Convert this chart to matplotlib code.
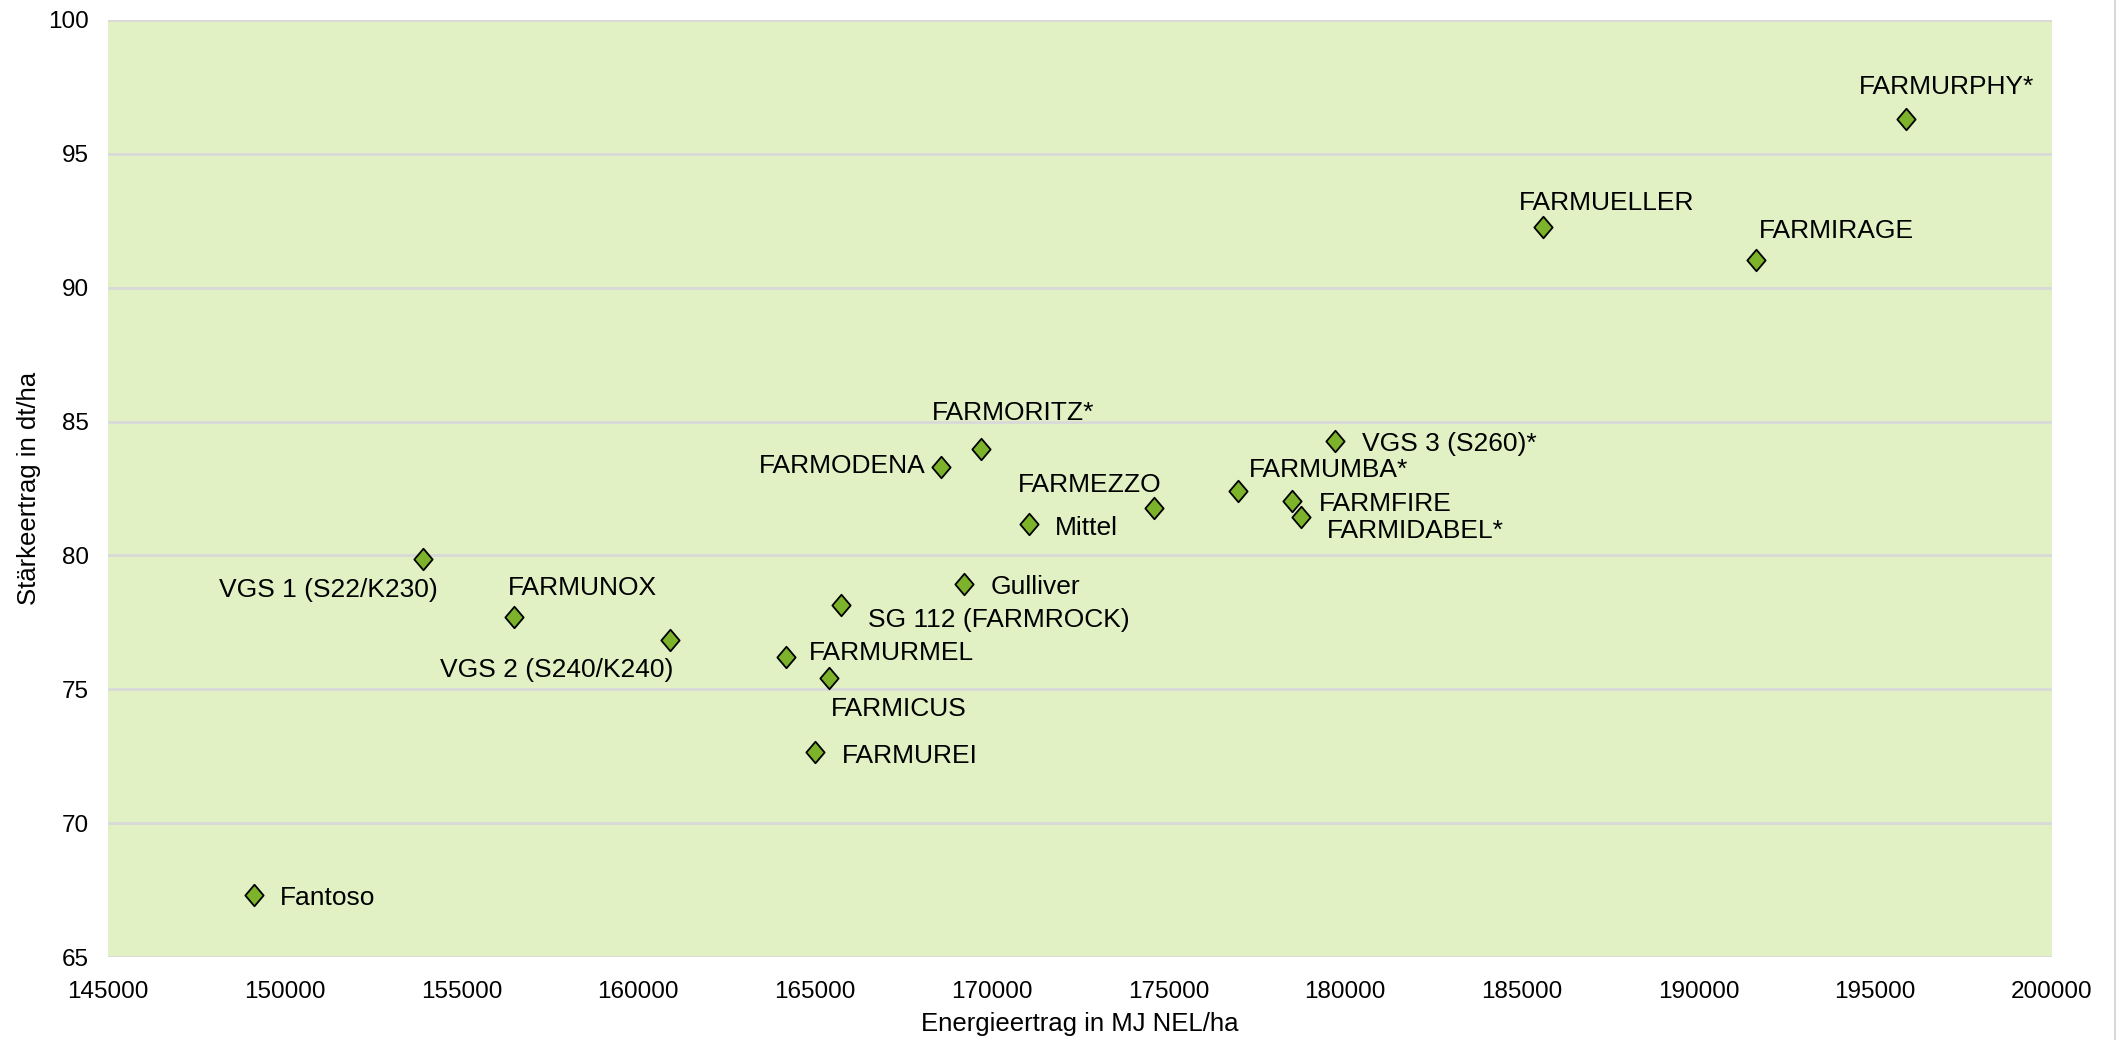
import matplotlib
matplotlib.use("Agg")
import matplotlib.pyplot as plt
from matplotlib.path import Path
from matplotlib.lines import Line2D

plt.rcParams['font.family'] = ['Liberation Sans', 'DejaVu Sans']

# Sorten, Energieertrag (MJ NEL/ha) und Stärkeertrag (dt/ha)
sorten = ["Fantoso", "VGS 1 (S22/K230)", "FARMUNOX", "VGS 2 (S240/K240)",
          "FARMURMEL", "FARMICUS", "FARMUREI", "SG 112 (FARMROCK)", "Gulliver",
          "FARMODENA", "FARMORITZ*", "Mittel", "FARMEZZO", "FARMUMBA*",
          "FARMFIRE", "FARMIDABEL*", "VGS 3 (S260)*", "FARMUELLER",
          "FARMIRAGE", "FARMURPHY*"]
energie = [149125, 153900, 156500, 160890, 164170, 165400, 165010, 165740,
           169220, 168570, 169710, 171050, 174600, 176970, 178500, 178760,
           179720, 185600, 191630, 195880]
staerke = [67.32, 79.88, 77.71, 76.85, 76.20, 75.44, 72.67, 78.16, 78.92,
           83.31, 83.96, 81.19, 81.79, 82.40, 82.05, 81.44, 84.27, 92.28,
           91.02, 96.32]

x_ticks = list(range(145000, 200001, 5000))
y_ticks = list(range(65, 101, 5))

# label placement: (dx, dy) in pixels, horizontal alignment
label_pos = {
    "Fantoso": (26, -3, "left"),
    "VGS 1 (S22/K230)": (15, -31, "right"),
    "FARMUNOX": (68, 29, "center"),
    "VGS 2 (S240/K240)": (4, -30, "right"),
    "FARMURMEL": (23, 4, "left"),
    "FARMICUS": (70, -31, "center"),
    "FARMUREI": (27, -4, "left"),
    "SG 112 (FARMROCK)": (27, -15, "left"),
    "Gulliver": (27, -3, "left"),
    "FARMODENA": (-15, 1, "right"),
    "FARMORITZ*": (32, 36, "center"),
    "Mittel": (26, -4, "left"),
    "FARMEZZO": (7, 23, "right"),
    "FARMUMBA*": (11, 21, "left"),
    "FARMFIRE": (27, -3, "left"),
    "FARMIDABEL*": (26, -14, "left"),
    "VGS 3 (S260)*": (27, -3, "left"),
    "FARMUELLER": (-24, 24, "left"),
    "FARMIRAGE": (3, 29, "left"),
    "FARMURPHY*": (40, 32, "center"),
}

fig = plt.figure(figsize=(21.17, 10.40), dpi=100)
ax = fig.add_axes([108 / 2117, 83 / 1040, 1944 / 2117, 937 / 1040])
ax.set_facecolor('#e1f1c4')

# slightly narrow diamond like the Excel marker
diamond = Path([(0, 1), (0.85, 0), (0, -1), (-0.85, 0), (0, 1)],
               [Path.MOVETO, Path.LINETO, Path.LINETO, Path.LINETO, Path.CLOSEPOLY])
ax.plot(energie, staerke, linestyle='none', marker=diamond, markersize=15.5,
        markerfacecolor='#7db32a', markeredgecolor='black', markeredgewidth=1.3,
        zorder=3)

for name, xv, yv in zip(sorten, energie, staerke):
    dx, dy, ha = label_pos[name]
    ax.annotate(name, (xv, yv), xytext=(dx, dy), textcoords='offset pixels',
                ha=ha, va='center', fontsize=19, color='black', zorder=4)

ax.set_xlim(145000, 200000)
ax.set_ylim(65, 100)
ax.set_xticks(x_ticks)
ax.set_yticks(y_ticks)
ax.tick_params(axis='both', length=0, labelsize=17.5, colors='black')
ax.tick_params(axis='x', pad=17)
ax.tick_params(axis='y', pad=14)
ax.grid(axis='y', color='#d9d9d9', linewidth=2)
ax.set_axisbelow(True)
for s in ax.spines.values():
    s.set_visible(False)

ax.set_xlabel('Energieertrag in MJ NEL/ha', fontsize=18.5, labelpad=7)
ax.set_ylabel('Stärkeertrag in dt/ha', fontsize=18.5, labelpad=5)

# thin chart border on the right
fig.add_artist(Line2D([0.9992, 0.9992], [0, 1], transform=fig.transFigure,
                      color='#d9d9d9', linewidth=1.5))

fig.savefig('out.png', dpi=100, facecolor='white')
plt.close(fig)
